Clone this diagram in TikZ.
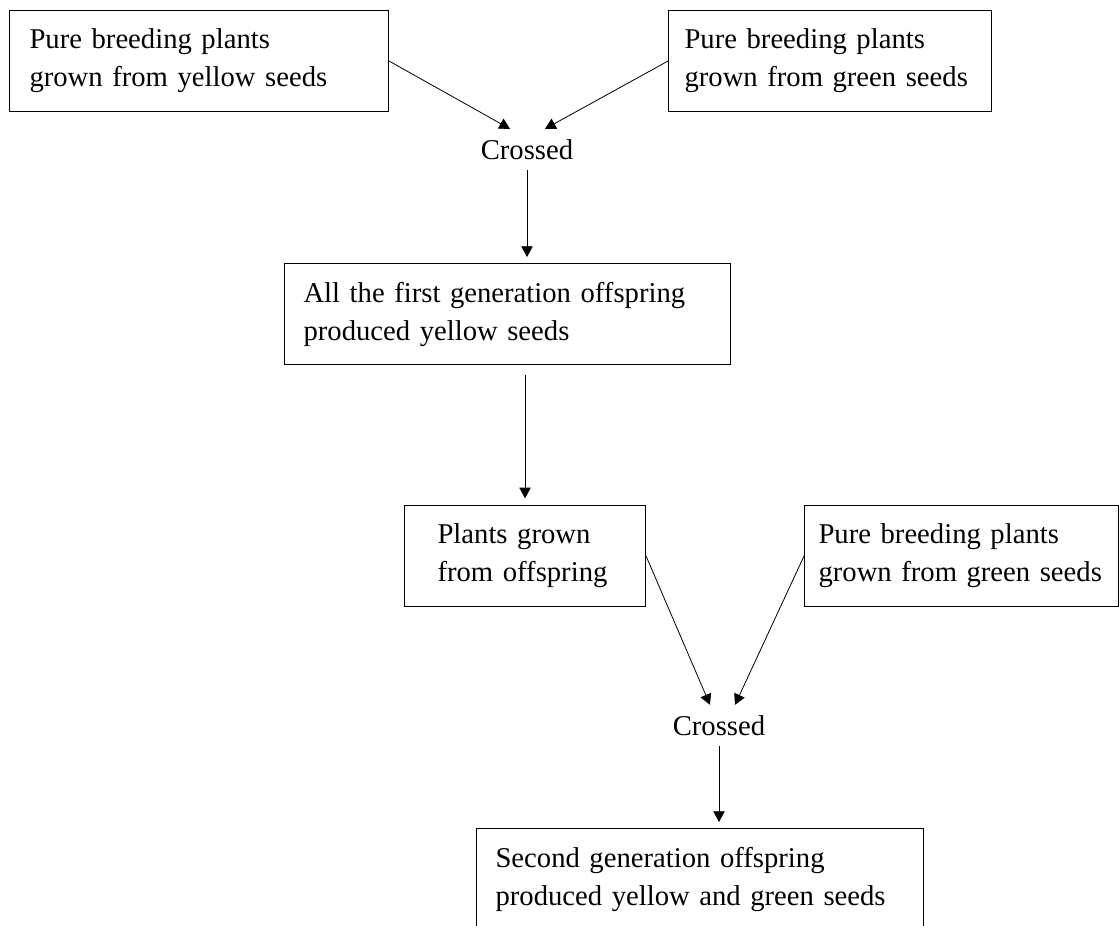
\documentclass[tikz,border=0pt]{standalone}
\usepackage{fontspec}
\setmainfont{Liberation Serif}
\usetikzlibrary{arrows.meta}
\newcommand{\diagfont}{\fontsize{21.5pt}{28.5pt}\selectfont\hyphenpenalty=10000}

\begin{document}
\begin{tikzpicture}[x=0.75pt, y=-0.75pt, ->, >={Triangle[length=8pt,width=8.5pt]},
  box/.style 2 args={draw, line width=0.8pt, anchor=north west, align=left,
    text width=#1, inner xsep=#2, inner ysep=0pt, minimum height=75.75pt, font=\diagfont},
  cross/.style={inner xsep=2pt, inner ysep=7.5pt, anchor=base, font=\diagfont}]
\useasboundingbox (0,0) rectangle (1120,925);
\clip (0,0) rectangle (1120,925);

\node[box={254.25pt}{15pt}] (yellow) at (9,10) {Pure breeding plants\\grown from yellow seeds};
\node[box={218.25pt}{12pt}] (green) at (668,10) {Pure breeding plants\\grown from green seeds};
\node[cross] (cross1) at (527,159) {Crossed};

\node[box={306pt}{14.25pt}] (first) at (284,263) {All the first generation offspring\\produced yellow seeds};

\node[box={131.25pt}{24.75pt}] (plants) at (404,505) {Plants grown\\from offspring};
\node[box={214.5pt}{10.5pt}] (green2) at (804,505) {Pure breeding plants\\grown from green seeds};
\node[cross] (cross2) at (719,735) {Crossed};

\node[box={306.75pt}{14.25pt}] (second) at (476,828) {Second generation offspring\\produced yellow and green seeds};

\path[line width=0.6pt]
  (yellow.east) edge ([xshift=-12.75pt]cross1.north)
  (green.west) edge ([xshift=13.5pt]cross1.north)
  (cross1) edge[shorten >=4.5pt] (cross1 |- first.north)

  (first.south -| plants.north) edge[shorten <=7.5pt, shorten >=5pt] (plants.north)

  (plants.east) edge ([xshift=-6.75pt]cross2.north)
  (green2.west) edge ([xshift=12pt]cross2.north)
  (cross2) edge[shorten >=4.5pt] (cross2 |- second.north)
;
\end{tikzpicture}
\end{document}
